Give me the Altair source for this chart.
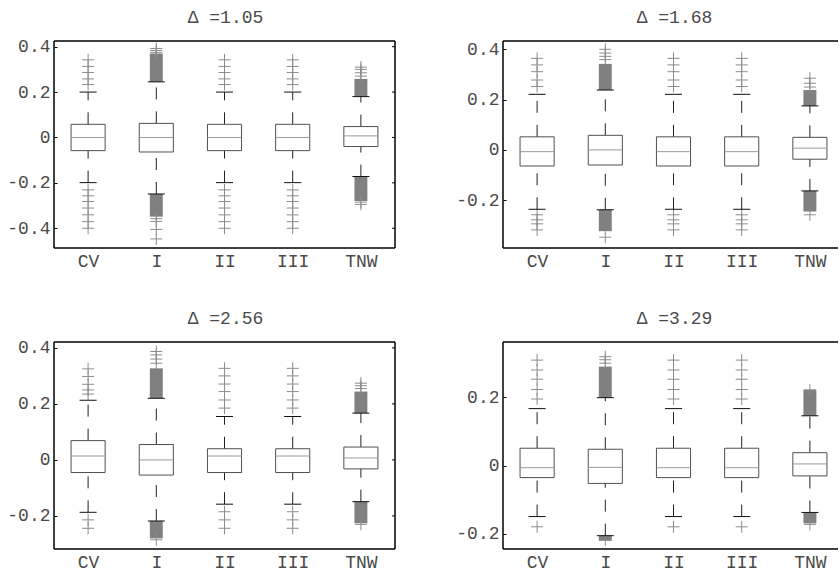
import json
import altair as alt
import pandas as pd

# ---------------- data ----------------
CATS = ["CV", "I", "II", "III", "TNW"]
POS = [1, 2, 3, 4, 5]
TITLES = ["Δ =1.05", "Δ =1.68", "Δ =2.56", "Δ =3.29"]
Y_DOMAINS = [[-0.487, 0.425], [-0.39, 0.433], [-0.318, 0.421], [-0.244, 0.362]]
Y_TICKS = [[-0.4, -0.2, 0, 0.2, 0.4], [-0.2, 0, 0.2, 0.4], [-0.2, 0, 0.2, 0.4], [-0.2, 0, 0.2]]

Q1 = [
    [-0.058, -0.064, -0.058, -0.058, -0.040],
    [-0.064, -0.060, -0.064, -0.064, -0.037],
    [-0.045, -0.054, -0.045, -0.045, -0.032],
    [-0.035, -0.052, -0.035, -0.035, -0.030],
]
MED = [
    [0.000, 0.000, 0.000, 0.000, 0.007],
    [-0.007, 0.000, -0.007, -0.007, 0.007],
    [0.014, 0.000, 0.014, 0.014, 0.007],
    [-0.006, -0.005, -0.006, -0.006, 0.005],
]
Q3 = [
    [0.058, 0.062, 0.058, 0.058, 0.048],
    [0.052, 0.058, 0.052, 0.052, 0.050],
    [0.069, 0.055, 0.040, 0.040, 0.046],
    [0.051, 0.048, 0.051, 0.051, 0.038],
]
LO_WHISKER = [
    [-0.199, -0.249, -0.199, -0.199, -0.172],
    [-0.236, -0.238, -0.236, -0.236, -0.163],
    [-0.187, -0.218, -0.158, -0.158, -0.149],
    [-0.149, -0.205, -0.149, -0.149, -0.137],
]
HI_WHISKER = [
    [0.200, 0.245, 0.200, 0.200, 0.180],
    [0.221, 0.238, 0.221, 0.221, 0.175],
    [0.213, 0.220, 0.155, 0.155, 0.167],
    [0.167, 0.199, 0.167, 0.167, 0.146],
]
# individual outliers (+ markers)
OUT_HI = [
    [[0.233, 0.258, 0.286, 0.313, 0.342], [0.375, 0.383, 0.392], [0.233, 0.258, 0.286, 0.313, 0.342],
     [0.233, 0.258, 0.286, 0.313, 0.342], [0.27, 0.285, 0.30, 0.31]],
    [[0.252, 0.278, 0.311, 0.338, 0.364], [0.359, 0.372, 0.385, 0.40], [0.252, 0.278, 0.311, 0.338, 0.364],
     [0.252, 0.278, 0.311, 0.338, 0.364], [0.25, 0.265, 0.285]],
    [[0.235, 0.25, 0.27, 0.298, 0.325], [0.345, 0.36, 0.375, 0.387], [0.185, 0.214, 0.244, 0.271, 0.30, 0.327],
     [0.185, 0.214, 0.244, 0.271, 0.30, 0.327], [0.255, 0.265, 0.274]],
    [[0.195, 0.223, 0.253, 0.28, 0.309], [0.30, 0.31, 0.319], [0.195, 0.223, 0.253, 0.28, 0.309],
     [0.195, 0.223, 0.253, 0.28, 0.309], [0.222]],
]
OUT_LO = [
    [[-0.231, -0.257, -0.282, -0.311, -0.341, -0.371, -0.400], [-0.358, -0.37, -0.405, -0.447],
     [-0.231, -0.257, -0.282, -0.311, -0.341, -0.371, -0.400],
     [-0.231, -0.257, -0.282, -0.311, -0.341, -0.371, -0.400], [-0.285, -0.295]],
    [[-0.258, -0.278, -0.294, -0.318], [-0.347], [-0.258, -0.278, -0.294, -0.318],
     [-0.258, -0.278, -0.294, -0.318], [-0.258]],
    [[-0.214, -0.244], [-0.285], [-0.185, -0.214, -0.244], [-0.185, -0.214, -0.244], [-0.23]],
    [[-0.179], [-0.218], [-0.179], [-0.179], [-0.172]],
]
# dense runs of outliers that merge into solid blocks: [from, to]
BLOCK_HI = [
    [[], [0.245, 0.37], [], [], [0.18, 0.258]],
    [[], [0.238, 0.342], [], [], [0.175, 0.238]],
    [[], [0.22, 0.327], [], [], [0.167, 0.244]],
    [[], [0.199, 0.29], [], [], [0.146, 0.222]],
]
BLOCK_LO = [
    [[], [-0.349, -0.249], [], [], [-0.28, -0.172]],
    [[], [-0.323, -0.238], [], [], [-0.245, -0.163]],
    [[], [-0.28, -0.218], [], [], [-0.226, -0.149]],
    [[], [-0.22, -0.205], [], [], [-0.169, -0.137]],
]

# ---------------- styling ----------------
FONT = "Liberation Mono"
FS = 18
TXT = "#4a4a4a"
FRAME_W = 341
PANEL_W = [FRAME_W, 335, FRAME_W, 335]
PANEL_H = 207
UNIT_PX = FRAME_W / 5.0
PLUS = "M-1,0H1M0,-1V1"
LABEL_EXPR = json.dumps(CATS) + "[datum.value - 1]"
ONE = pd.DataFrame({"f": [0]})


def panel(k):
    w = PANEL_W[k]
    xs = alt.Scale(domain=[0.5, 0.5 + w / UNIT_PX], nice=False, zero=False)
    ys = alt.Scale(domain=Y_DOMAINS[k], nice=False, zero=False)

    xaxis = alt.Axis(values=POS, labelExpr=LABEL_EXPR, ticks=False, domain=False, grid=False,
                     title=None, labelFont=FONT, labelFontSize=FS, labelColor=TXT, labelPadding=4)
    yaxis = alt.Axis(values=Y_TICKS[k], labelExpr="replace(format(datum.value, '.1~f'), '\u2212', '-')",
                     tickSize=3, offset=-3, tickColor="black", domain=False, grid=False, title=None,
                     labelFont=FONT, labelFontSize=FS, labelColor=TXT, labelPadding=4)

    def X(f):
        return alt.X(f, type="quantitative", scale=xs, axis=xaxis, title=None)

    def Y(f):
        return alt.Y(f, type="quantitative", scale=ys, axis=yaxis, title=None)

    box_df = pd.DataFrame({
        "pos": POS, "cat": CATS, "q1": Q1[k], "med": MED[k], "q3": Q3[k],
        "lo": LO_WHISKER[k], "hi": HI_WHISKER[k],
    })
    out_rows = []
    for i in range(5):
        for v in OUT_HI[k][i] + OUT_LO[k][i]:
            out_rows.append({"pos": POS[i], "v": v})
    out_df = pd.DataFrame(out_rows)
    blk_rows = []
    for i in range(5):
        for b in (BLOCK_HI[k][i], BLOCK_LO[k][i]):
            if b:
                blk_rows.append({"pos": POS[i], "b0": b[0], "b1": b[1]})
    blk_df = pd.DataFrame(blk_rows)

    base = alt.Chart(box_df).transform_calculate(
        xl="datum.pos - 0.25", xr="datum.pos + 0.25",
        cl="datum.pos - 0.125", cr="datum.pos + 0.125")

    blocks = alt.Chart(blk_df).transform_calculate(
        bl="datum.pos - 0.095", br="datum.pos + 0.095"
    ).mark_rect(color="#808080").encode(x=X("bl"), x2="br:Q", y=Y("b0"), y2="b1:Q")

    outl = alt.Chart(out_df).mark_point(shape=PLUS, size=144, filled=False, color="#8c8c8c",
                                        strokeWidth=1, opacity=1).encode(x=X("pos"), y=Y("v"))

    wh_up = base.mark_rule(color="#222222", strokeDash=[12, 12], strokeWidth=1).encode(
        x=X("pos"), y=Y("q3"), y2="hi:Q")
    wh_dn = base.mark_rule(color="#222222", strokeDash=[12, 12], strokeWidth=1).encode(
        x=X("pos"), y=Y("lo"), y2="q1:Q")
    cap_hi = base.mark_rule(color="#111111", strokeWidth=1).encode(x=X("cl"), x2="cr:Q", y=Y("hi"))
    cap_lo = base.mark_rule(color="#111111", strokeWidth=1).encode(x=X("cl"), x2="cr:Q", y=Y("lo"))
    boxes = base.mark_rect(fillOpacity=0, stroke="#505050", strokeWidth=1).encode(
        x=X("xl"), x2="xr:Q", y=Y("q1"), y2="q3:Q")
    meds = base.mark_rule(color="#9a9a9a", strokeWidth=1).encode(x=X("xl"), x2="xr:Q", y=Y("med"))

    layers = [blocks, outl, wh_up, wh_dn, cap_hi, cap_lo, boxes, meds]

    fr = dict(color="black", strokeWidth=1.5)
    layers.append(alt.Chart(ONE).mark_rule(**fr).encode(x=alt.value(0), x2=alt.value(w), y=alt.value(0)))
    layers.append(alt.Chart(ONE).mark_rule(**fr).encode(x=alt.value(0), x2=alt.value(w), y=alt.value(PANEL_H)))
    layers.append(alt.Chart(ONE).mark_rule(**fr).encode(x=alt.value(0), y=alt.value(0), y2=alt.value(PANEL_H)))
    if w == FRAME_W:
        layers.append(alt.Chart(ONE).mark_rule(**fr).encode(x=alt.value(w), y=alt.value(0), y2=alt.value(PANEL_H)))
        rt = alt.Chart(pd.DataFrame({"t": Y_TICKS[k]})).mark_rule(color="black", strokeWidth=1).encode(
            x=alt.value(w - 3), x2=alt.value(w), y=Y("t"))
        layers.append(rt)

    # panel title
    layers.append(alt.Chart(pd.DataFrame({"t": [TITLES[k]]})).mark_text(
        font=FONT, fontSize=FS, color=TXT, align="center", baseline="alphabetic").encode(
        text="t:N", x=alt.value(FRAME_W / 2.0 + 1), y=alt.value(-18)))

    if k == 0:
        # invisible anchor fixing the top-left margin of the whole figure
        layers.append(alt.Chart(ONE).mark_rect(opacity=0).encode(
            x=alt.value(-54), x2=alt.value(-50), y=alt.value(-41), y2=alt.value(-37)))

    return alt.layer(*layers).properties(width=w, height=PANEL_H)


chart = alt.concat(panel(0), panel(1), panel(2), panel(3), columns=2,
                   spacing={"row": 94, "column": 108}, bounds="flush").properties(
    padding={"left": 0, "top": 0, "right": 0, "bottom": 0},
).configure_view(strokeWidth=0)

chart.save("out.html", embed_options={"renderer": "svg", "actions": False})
